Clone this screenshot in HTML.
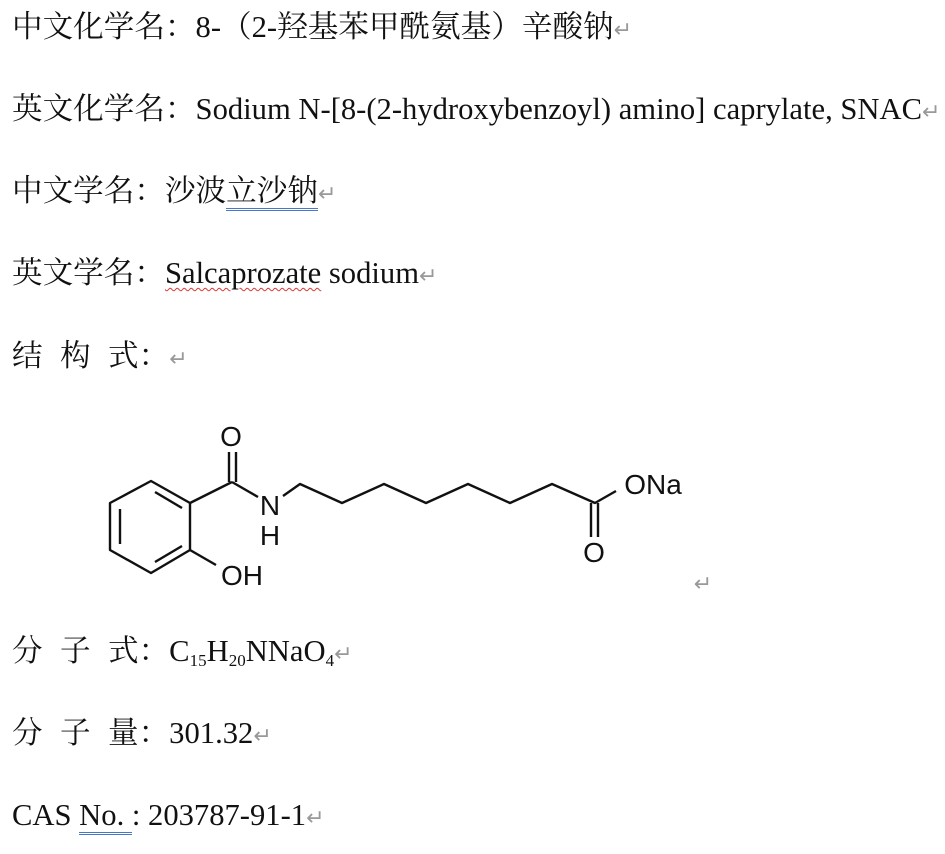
<!DOCTYPE html>
<html><head><meta charset="utf-8"><style>
html,body{margin:0;padding:0;background:#fff;}
body{width:945px;height:854px;position:relative;overflow:hidden;}
.l{position:absolute;left:12px;white-space:nowrap;font-family:"Liberation Serif","Noto Serif CJK SC",serif;font-size:30.6px;color:#111;line-height:32px;}
.r{color:#999;font-size:22px;}
.c{display:inline-block;width:48px;}
sub{font-size:17px;vertical-align:-5px;}
.dbl{border-bottom:3px double #4a78c8;}
.wav{text-decoration:underline wavy #d33;text-decoration-thickness:1px;text-underline-offset:4px;}
</style></head><body>
<div class="l" style="top:11px">中文化学名：8-（2-羟基苯甲酰氨基）辛酸钠<span class="r">↵</span></div>
<div class="l" style="top:93px">英文化学名：Sodium N-[8-(2-hydroxybenzoyl) amino] caprylate, SNAC<span class="r">↵</span></div>
<div class="l" style="top:175px">中文学名：沙波<span class="dbl">立沙钠</span><span class="r">↵</span></div>
<div class="l" style="top:257px">英文学名：<span class="wav">Salcaprozate</span> sodium<span class="r">↵</span></div>
<div class="l" style="top:340px"><span class="c">结</span><span class="c">构</span>式：<span class="r">↵</span></div>
<svg style="position:absolute;left:0;top:0" width="945" height="854">
<g stroke="#111" stroke-width="2.4" fill="none" stroke-linejoin="round">
<polygon points="151,481 190,503 190,550 151,573 110,550 110,503"/>
<line x1="120" y1="509" x2="120" y2="544"/>
<line x1="155" y1="492" x2="182" y2="508"/>
<line x1="155" y1="562" x2="182" y2="546"/>
<line x1="190" y1="503" x2="232" y2="482"/>
<line x1="229" y1="482" x2="229" y2="452"/>
<line x1="236" y1="482" x2="236" y2="452"/>
<line x1="232" y1="482" x2="258" y2="497"/>
<line x1="190" y1="550" x2="216" y2="565"/>
<polyline points="283,496 300,484 342,503 384,484 426,503 468,484 510,503 552,484 595,503 616,491"/>
<line x1="591" y1="503" x2="591" y2="537"/>
<line x1="598" y1="503" x2="598" y2="537"/>
</g>
<g font-family="Liberation Sans,sans-serif" font-size="28" fill="#111" text-anchor="middle">
<text x="231" y="446">O</text>
<text x="270" y="515">N</text>
<text x="270" y="545">H</text>
<text x="242" y="585">OH</text>
<text x="653" y="494">ONa</text>
<text x="594" y="562">O</text>
</g>
<text x="703" y="591" font-size="22" fill="#999" text-anchor="middle" font-family="Liberation Serif,serif">↵</text>
</svg>
<div class="l" style="top:635px"><span class="c">分</span><span class="c">子</span>式：C<sub>15</sub>H<sub>20</sub>NNaO<sub>4</sub><span class="r">↵</span></div>
<div class="l" style="top:717px"><span class="c">分</span><span class="c">子</span>量：301.32<span class="r">↵</span></div>
<div class="l" style="top:799px">CAS <span class="dbl">No. </span>: 203787-91-1<span class="r">↵</span></div>
</body></html>
